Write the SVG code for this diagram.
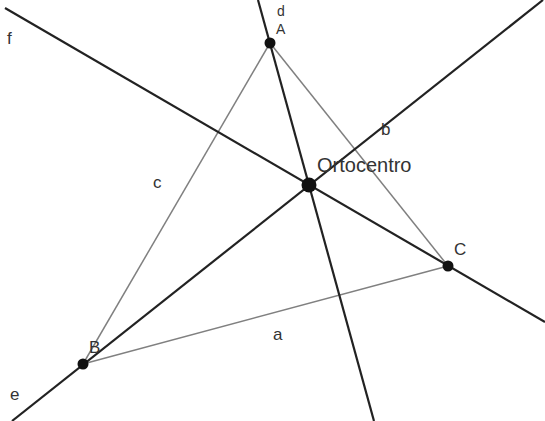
<svg xmlns="http://www.w3.org/2000/svg" width="545" height="421" viewBox="0 0 545 421">
<style>
.line{stroke:#222;stroke-width:2.2;fill:none}
.side{stroke:#808080;stroke-width:1.5;fill:none}
.pt{fill:#111}
.lbl{font-family:"Liberation Sans",Arial,sans-serif;font-size:17px;fill:#333}
</style>
<rect width="545" height="421" fill="#fff"/>
<g id="connectors">
<line class="side" x1="270" y1="43" x2="83" y2="364"/>
<line class="side" x1="270" y1="43" x2="448" y2="266"/>
<line class="side" x1="83" y1="364" x2="448" y2="266"/>
<line class="line" x1="258" y1="0" x2="374" y2="421"/>
<line class="line" x1="12" y1="421" x2="543" y2="0"/>
<line class="line" x1="5" y1="8" x2="545" y2="322"/>
</g>
<g id="label-d"><text class="lbl" x="277" y="16" style="font-size:14px">d</text></g>
<g id="label-e"><text class="lbl" x="10" y="400">e</text></g>
<g id="label-f"><text class="lbl" x="7" y="44">f</text></g>
<g id="label-a"><text class="lbl" x="273" y="340">a</text></g>
<g id="label-b"><text class="lbl" x="381" y="135">b</text></g>
<g id="label-c"><text class="lbl" x="153" y="188">c</text></g>
<g id="A"><circle class="pt" cx="270" cy="43" r="5.5"/><text class="lbl" x="276" y="34" style="font-size:14px">A</text></g>
<g id="B"><circle class="pt" cx="83" cy="364" r="5.5"/><text class="lbl" x="89" y="353">B</text></g>
<g id="C"><circle class="pt" cx="448" cy="266" r="5.5"/><text class="lbl" x="454" y="255">C</text></g>
<g id="Ortocentro"><circle class="pt" cx="309" cy="185" r="7.5"/><text class="lbl" x="317" y="172" style="font-size:20px">Ortocentro</text></g>
</svg>
